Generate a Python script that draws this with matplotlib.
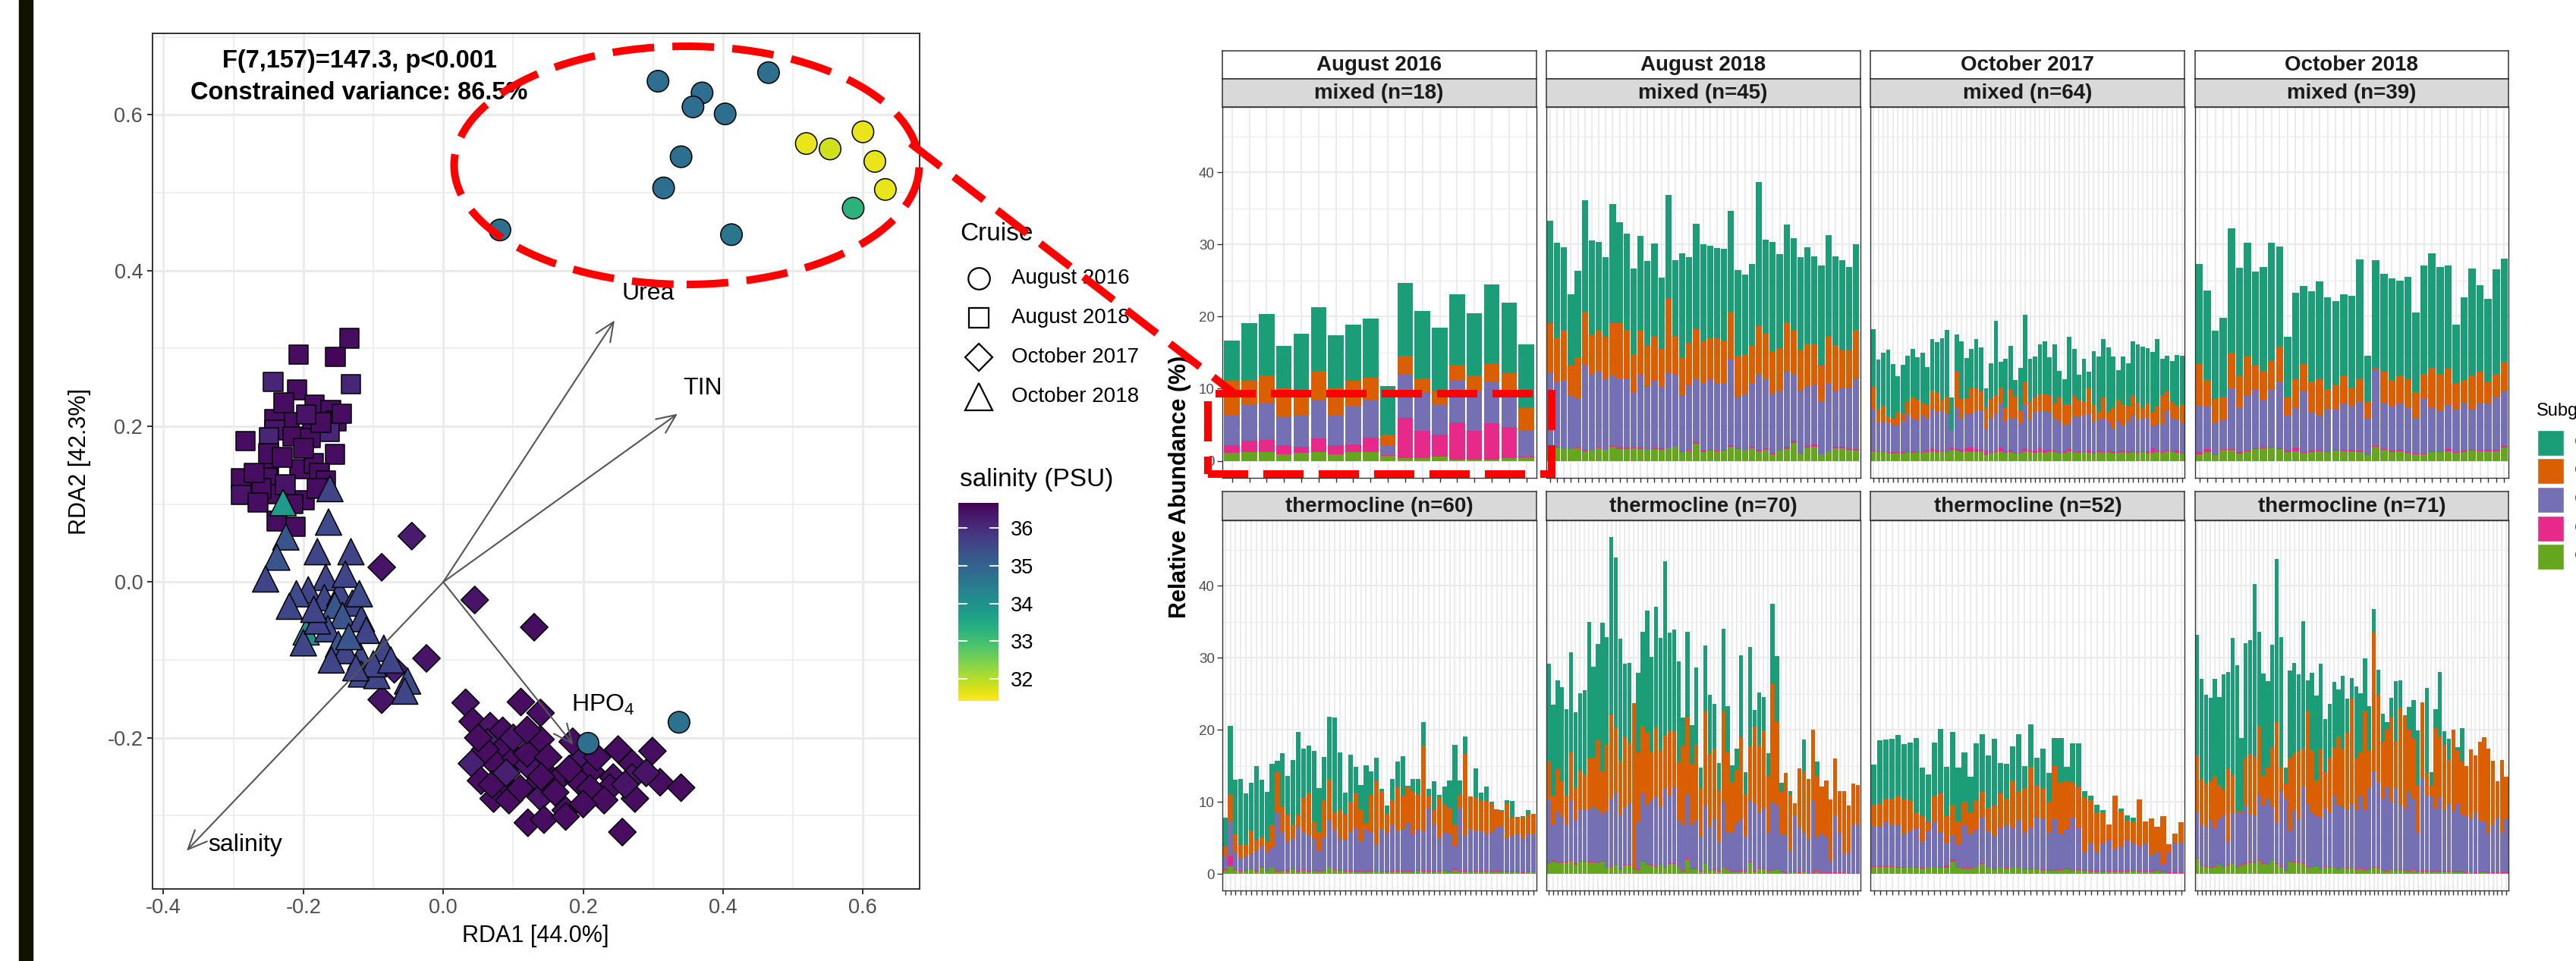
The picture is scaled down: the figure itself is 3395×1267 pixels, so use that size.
import numpy as np
import matplotlib
matplotlib.use("Agg")
import matplotlib.pyplot as plt
from matplotlib.patches import Ellipse, Rectangle
from matplotlib.lines import Line2D
from matplotlib.colors import Normalize
from matplotlib.cm import ScalarMappable
from matplotlib.ticker import FormatStrFormatter

plt.rcParams['font.family'] = ['Liberation Sans', 'DejaVu Sans']
plt.rcParams['mathtext.fontset'] = 'custom'
plt.rcParams['mathtext.rm'] = 'Liberation Sans'
plt.rcParams['mathtext.it'] = 'Liberation Sans:italic'

W, H = 3395, 1267

# ---------------- RDA ordination (left) ----------------
# August 2016 (circles)
circ_x = [0.307, 0.465, 0.370, 0.357, 0.403, 0.340, 0.315, 0.081, 0.412, 0.519, 0.553, 0.600, 0.617, 0.632, 0.586, 0.207, 0.337]
circ_y = [0.643, 0.654, 0.628, 0.610, 0.601, 0.546, 0.506, 0.452, 0.446, 0.563, 0.556, 0.578, 0.540, 0.504, 0.480, -0.207, -0.180]
circ_sal = [34.8, 34.8, 34.8, 34.8, 34.8, 34.8, 34.8, 34.8, 34.6, 31.6, 31.8, 31.6, 31.6, 31.6, 33.3, 34.8, 34.7]

# August 2018 (squares)
sq_x = [-0.134, -0.207, -0.154, -0.243, -0.132, -0.209, -0.184, -0.161, -0.153, -0.187, -0.220, -0.241, -0.241, -0.163, -0.283,
        -0.249, -0.215, -0.190, -0.155, -0.283, -0.249, -0.205, -0.185, -0.250, -0.289, -0.289, -0.252, -0.247, -0.198, -0.238,
        -0.211, -0.177, -0.168, -0.226, -0.260, -0.270, -0.230, -0.200, -0.175, -0.145, -0.228, -0.196, -0.180, -0.215, -0.265]
sq_y = [0.313, 0.292, 0.289, 0.257, 0.254, 0.247, 0.227, 0.221, 0.207, 0.205, 0.205, 0.209, 0.195, 0.193, 0.181,
        0.186, 0.187, 0.185, 0.164, 0.132, 0.150, 0.145, 0.152, 0.165, 0.133, 0.112, 0.134, 0.113, 0.105, 0.078,
        0.071, 0.140, 0.130, 0.125, 0.120, 0.140, 0.160, 0.172, 0.205, 0.216, 0.230, 0.215, 0.120, 0.100, 0.102]
sq_sal = [36.5, 36.5, 36.6, 36.1, 36.1, 36.5, 36.5, 36.5, 36.5, 36.5, 36.5, 36.5, 36.4, 36.1, 36.5,
          36.1, 36.5, 36.5, 36.5, 36.5, 36.5, 36.5, 36.5, 36.5, 36.5, 36.4, 36.5, 36.5, 36.5, 36.5,
          36.5, 36.5, 36.5, 36.4, 36.5, 36.5, 36.5, 36.5, 36.5, 36.5, 36.5, 36.4, 36.5, 36.5, 36.5]

# October 2017 (diamonds)
dia_x = [-0.045, -0.088, 0.045, 0.130, -0.024, -0.070, -0.088, 0.032, 0.111, 0.139,
         0.042, 0.067, 0.085, 0.063, 0.139, 0.085, 0.299, 0.270, 0.193, 0.211,
         0.243, 0.270, 0.310, 0.340, 0.041, 0.077, 0.103, 0.121, 0.148, 0.162,
         0.054, 0.085, 0.130, 0.193, 0.238, 0.274, 0.072, 0.094, 0.139, 0.175,
         0.121, 0.144, 0.175, 0.256, 0.060, 0.100, 0.120, 0.150, 0.180, 0.220,
         0.250, 0.290, 0.210, 0.160, 0.110, 0.070, 0.090, 0.140, 0.230, 0.260,
         0.050, 0.120, 0.185, 0.200]
dia_y = [0.059, 0.019, -0.023, -0.058, -0.098, -0.112, -0.151, -0.155, -0.154, -0.168,
         -0.179, -0.185, -0.191, -0.206, -0.202, -0.214, -0.217, -0.233, -0.230, -0.243,
         -0.251, -0.251, -0.257, -0.264, -0.233, -0.235, -0.226, -0.235, -0.247, -0.255,
         -0.255, -0.257, -0.262, -0.255, -0.264, -0.278, -0.278, -0.280, -0.276, -0.293,
         -0.309, -0.305, -0.301, -0.321, -0.215, -0.200, -0.220, -0.225, -0.240, -0.225,
         -0.215, -0.245, -0.265, -0.270, -0.265, -0.260, -0.245, -0.250, -0.280, -0.260,
         -0.200, -0.190, -0.205, -0.285]
dia_sal = [36.3, 36.4, 36.4, 36.5, 36.4, 36.3, 36.4, 36.4, 36.5, 36.5,
           36.5, 36.4, 36.5, 36.2, 36.5, 36.5, 36.5, 36.5, 36.4, 36.5,
           36.5, 36.4, 36.5, 36.5, 36.2, 36.5, 36.5, 36.4, 36.5, 36.5,
           36.5, 36.5, 36.4, 36.5, 36.5, 36.5, 36.5, 36.5, 36.4, 36.5,
           36.5, 36.5, 36.5, 36.5, 36.5, 36.4, 36.5, 36.5, 36.5, 36.5,
           36.5, 36.4, 36.5, 36.5, 36.5, 36.5, 36.2, 36.5, 36.5, 36.4,
           36.5, 36.5, 36.5, 36.5]

# October 2018 (triangles)
tri_x = [-0.162, -0.229, -0.164, -0.225, -0.180, -0.132, -0.238, -0.254, -0.168, -0.193,
         -0.210, -0.170, -0.148, -0.220, -0.155, -0.130, -0.144, -0.117, -0.196, -0.165,
         -0.110, -0.200, -0.150, -0.085, -0.118, -0.140, -0.117, -0.095, -0.051, -0.055,
         -0.180, -0.135, -0.100, -0.125, -0.160, -0.185, -0.140, -0.120, -0.075]
tri_y = [0.120, 0.102, 0.077, 0.058, 0.039, 0.039, 0.032, 0.004, 0.006, -0.010,
         -0.015, -0.020, -0.014, -0.031, -0.030, -0.027, -0.043, -0.047, -0.064, -0.060,
         -0.062, -0.078, -0.080, -0.085, -0.096, -0.088, -0.118, -0.120, -0.127, -0.140,
         -0.050, -0.070, -0.105, -0.110, -0.100, -0.035, 0.010, -0.015, -0.100]
tri_sal = [35.6, 33.8, 35.5, 35.3, 35.6, 35.6, 35.3, 35.6, 35.6, 35.6,
           35.5, 35.6, 35.6, 35.6, 35.3, 35.6, 35.3, 35.6, 34.1, 35.5,
           35.6, 35.6, 35.3, 35.6, 35.5, 35.6, 35.5, 35.6, 35.5, 35.6,
           35.6, 35.3, 35.6, 35.6, 35.6, 35.6, 35.6, 35.5, 35.6]

# environmental vectors
vec_names = ['Urea', 'TIN', 'HPO$_4$', 'salinity']
vec_x = [0.245, 0.335, 0.186, -0.367]
vec_y = [0.336, 0.216, -0.209, -0.345]
vec_lab_x = [0.293, 0.371, 0.228, -0.283]
vec_lab_y = [0.370, 0.249, -0.158, -0.338]

cruises = ['August 2016', 'August 2018', 'October 2017', 'October 2018']
sal_ticks = [32, 33, 34, 35, 36]

# ---------------- relative abundance bars (right) ----------------
# per bar: top of green, pink, purple, orange and teal (total) layers, in %
am16_g = [1.1, 1.2, 1.2, 0.9, 1.1, 1.2, 0.9, 1.2, 1.2, 0.7, 0.4, 0.4, 0.6, 0.2, 0.2, 0.2, 0.4, 0.5]
am16_p = [2.2, 2.8, 2.9, 2.2, 2.0, 3.1, 2.2, 2.3, 3.2, 0.8, 5.9, 4.2, 3.6, 5.3, 4.2, 5.2, 4.7, 0.6]
am16_v = [6.4, 7.7, 8.1, 6.1, 6.3, 8.5, 6.3, 7.5, 8.5, 2.2, 12.1, 9.4, 7.7, 11.1, 9.6, 11.0, 9.3, 4.3]
am16_o = [11.1, 11.1, 11.8, 10.0, 9.8, 12.5, 10.0, 11.1, 11.5, 3.6, 14.6, 11.4, 9.6, 13.3, 11.8, 13.5, 12.2, 7.4]
am16_t = [16.7, 19.1, 20.4, 15.9, 17.6, 21.3, 17.4, 18.9, 19.7, 10.4, 24.7, 20.8, 18.5, 23.1, 20.5, 24.5, 21.9, 16.1]

am18_g = [1.9, 1.85, 1.6, 1.6, 1.75, 1.35, 1.4, 1.75, 1.5, 1.9, 1.6, 1.6, 1.75, 1.6, 1.5, 1.6, 1.55, 1.7, 1.9, 1.2,
          1.35, 2.4, 1.2, 1.4, 1.3, 1.4, 1.9, 1.65, 1.4, 1.7, 1.3, 1.5, 0.95, 1.4, 1.65, 2.5, 1.0, 1.85, 2.0, 0.9,
          1.3, 1.75, 1.75, 1.5, 1.4]
am18_p = [1.9, 1.9, 1.65, 1.65, 1.8, 1.5, 1.45, 1.8, 1.55, 2.1, 1.8, 1.8, 1.8, 1.85, 1.55, 1.8, 1.75, 1.75, 1.95, 1.35,
          1.4, 2.6, 1.4, 1.55, 1.4, 1.55, 2.15, 1.7, 1.45, 1.9, 1.5, 1.75, 1.15, 1.5, 1.9, 2.8, 1.1, 2.1, 2.25, 0.95,
          1.35, 2.0, 1.9, 1.7, 1.65]
am18_v = [12.2, 11.0, 11.1, 9.0, 8.7, 13.2, 11.9, 12.4, 11.3, 11.8, 11.4, 11.4, 9.4, 11.9, 10.4, 11.1, 10.3, 12.3, 11.9, 9.1,
          10.5, 11.4, 10.8, 11.3, 10.8, 10.8, 14.0, 8.9, 9.3, 10.8, 12.1, 11.4, 9.3, 9.6, 12.4, 11.9, 9.6, 10.4, 10.5, 8.3,
          10.7, 9.6, 10.0, 10.1, 11.4]
am18_o = [19.1, 17.1, 18.0, 13.2, 14.4, 20.7, 17.5, 18.1, 17.2, 19.1, 19.1, 18.1, 14.8, 18.2, 15.9, 17.3, 15.5, 22.5, 17.3, 14.3,
          16.4, 18.3, 16.6, 17.1, 17.0, 16.7, 20.7, 14.6, 14.8, 15.9, 18.7, 17.6, 15.2, 15.6, 19.2, 18.1, 15.4, 16.3, 16.2, 13.2,
          17.3, 16.0, 15.3, 15.3, 18.1]
am18_t = [33.3, 30.2, 29.6, 23.1, 26.3, 36.1, 30.6, 30.4, 28.2, 35.6, 33.1, 31.5, 26.7, 31.2, 27.7, 30.1, 25.4, 36.9, 27.8, 28.8,
          28.2, 32.9, 30.0, 29.8, 29.5, 29.4, 34.7, 26.5, 25.8, 27.3, 38.7, 30.7, 30.4, 28.7, 32.8, 30.9, 28.2, 29.6, 28.4, 27.1,
          31.3, 28.3, 27.8, 26.9, 30.0]

om17_g = [1.3, 1.2, 1.2, 1.1, 1.0, 1.1, 1.0, 1.2, 1.1, 1.2, 1.1, 1.2, 1.3, 1.2, 1.3, 1.2, 1.5, 1.4, 1.2, 1.3,
          1.2, 1.2, 1.3, 0.8, 1.1, 1.2, 1.3, 1.1, 1.2, 1.0, 1.1, 1.3, 1.2, 1.1, 1.2, 1.1, 1.3, 1.2, 1.0, 1.1,
          1.3, 1.2, 1.1, 1.2, 1.1, 1.0, 1.2, 1.1, 1.2, 1.0, 1.1, 1.2, 1.1, 1.2, 1.1, 1.2, 1.0, 1.1, 1.2, 1.1,
          1.3, 1.2, 1.1, 1.0]
om17_p = [1.5, 1.3, 1.3, 1.2, 1.2, 1.2, 1.2, 1.3, 1.3, 1.3, 1.2, 1.4, 1.7, 1.4, 1.4, 1.3, 1.8, 1.6, 1.5, 1.8,
          1.8, 1.6, 1.5, 1.4, 1.2, 1.4, 1.8, 1.3, 1.5, 1.1, 1.2, 1.7, 1.4, 1.4, 1.7, 1.4, 1.5, 1.4, 1.1, 1.3,
          1.6, 1.3, 1.3, 1.3, 1.4, 1.1, 1.4, 1.2, 1.4, 1.3, 1.2, 1.4, 1.3, 1.3, 1.3, 1.3, 1.3, 1.7, 1.4, 1.2,
          1.5, 1.3, 1.4, 1.1]
om17_v = [7.1, 5.3, 5.5, 5.3, 5.0, 4.9, 5.4, 6.5, 5.8, 5.6, 6.4, 5.8, 7.2, 6.8, 7.0, 6.6, 4.2, 7.3, 6.0, 6.5,
          6.5, 7.0, 7.0, 4.5, 5.8, 6.6, 8.0, 5.4, 6.0, 5.9, 5.2, 7.7, 5.7, 6.7, 6.9, 7.0, 6.8, 6.0, 5.5, 4.9,
          5.2, 6.2, 6.2, 6.4, 6.5, 5.4, 5.7, 6.0, 5.4, 4.5, 5.4, 4.9, 5.5, 6.4, 5.7, 5.9, 6.0, 4.8, 5.1, 5.0,
          7.0, 6.0, 5.6, 5.3]
om17_o = [10.3, 7.2, 7.6, 6.2, 5.8, 6.8, 6.6, 8.3, 8.9, 8.5, 8.0, 7.7, 9.7, 9.4, 8.5, 8.9, 4.2, 12.4, 8.6, 8.7,
          10.0, 10.1, 9.6, 7.4, 8.6, 9.0, 10.2, 7.4, 9.8, 8.9, 6.9, 11.0, 8.2, 8.8, 9.2, 9.3, 9.0, 7.9, 8.8, 7.8,
          7.8, 9.0, 8.4, 8.2, 10.0, 7.8, 6.8, 8.8, 6.8, 7.4, 8.5, 7.8, 7.6, 9.0, 8.0, 7.4, 7.9, 6.8, 7.5, 9.0,
          9.6, 8.2, 7.6, 7.8]
om17_t = [18.3, 14.0, 15.0, 15.4, 13.4, 11.7, 13.3, 14.6, 15.5, 14.4, 15.0, 13.0, 16.9, 16.5, 17.0, 18.2, 8.8, 17.5, 16.6, 14.3,
          15.5, 16.9, 15.7, 10.1, 13.5, 19.4, 13.7, 14.1, 15.9, 11.2, 12.9, 20.2, 14.1, 14.5, 16.2, 16.6, 14.4, 16.2, 12.5, 11.3,
          17.2, 15.5, 11.9, 14.1, 12.4, 15.2, 14.5, 16.9, 15.7, 14.5, 12.6, 14.5, 13.5, 16.6, 16.1, 15.8, 15.6, 15.1, 16.9, 14.2,
          14.6, 13.8, 14.7, 14.6]

om18_g = [0.9, 1.2, 0.8, 1.5, 1.5, 1.0, 1.3, 1.6, 1.7, 1.8, 1.6, 1.2, 1.3, 1.1, 1.2, 1.3, 1.2, 1.4, 1.3, 1.3,
          1.2, 0.8, 2.0, 1.5, 1.2, 1.3, 1.1, 0.9, 0.9, 1.2, 1.2, 1.3, 1.1, 1.2, 1.4, 1.3, 1.3, 1.3, 1.8]
om18_p = [1.2, 1.6, 0.9, 1.6, 1.6, 1.2, 1.4, 1.7, 1.8, 1.9, 1.7, 1.4, 1.8, 1.2, 1.4, 1.4, 1.3, 1.5, 1.4, 1.5,
          1.4, 0.9, 2.1, 1.6, 1.4, 1.5, 1.2, 1.0, 1.0, 1.3, 1.3, 1.6, 1.2, 1.4, 1.5, 1.4, 1.5, 1.5, 2.1]
om18_v = [7.6, 7.5, 5.3, 5.7, 10.0, 7.4, 9.1, 9.8, 8.4, 9.8, 11.0, 6.4, 7.3, 9.7, 6.7, 6.4, 7.1, 7.2, 7.9, 7.5,
          8.2, 5.8, 12.6, 8.0, 7.6, 8.1, 7.4, 6.0, 8.6, 7.4, 7.0, 7.7, 7.2, 8.0, 7.2, 7.9, 7.9, 8.8, 9.7]
om18_o = [13.4, 11.2, 8.6, 8.8, 15.0, 11.8, 14.6, 13.2, 12.5, 13.8, 15.8, 8.8, 11.3, 13.4, 11.0, 11.3, 9.9, 10.6, 11.8, 10.0,
          11.4, 8.3, 12.8, 12.4, 11.2, 11.8, 11.4, 9.5, 12.0, 12.9, 12.0, 12.8, 10.8, 11.2, 11.8, 12.4, 11.0, 12.1, 13.7]
om18_t = [27.3, 23.6, 18.0, 19.8, 32.2, 26.8, 30.2, 26.2, 26.9, 30.2, 29.7, 17.2, 23.3, 24.3, 23.5, 24.9, 22.7, 22.1, 23.1, 22.9,
          27.9, 14.6, 27.8, 25.9, 25.3, 25.0, 25.5, 20.6, 27.1, 28.8, 26.9, 27.1, 18.9, 22.7, 26.7, 24.4, 22.5, 26.6, 28.0]

at16_g = [0.5, 1.1, 0.5, 0.3, 0.4, 0.6, 0.3, 0.9, 0.4, 0.8, 0.3, 0.4, 0.3, 0.6, 0.3, 0.5, 0.3, 0.4, 0.3, 0.4,
          0.8, 0.5, 0.4, 0.3, 0.3, 0.2, 0.3, 0.2, 0.3, 0.4, 0.2, 0.2, 0.3, 0.3, 0.2, 0.3, 0.2, 0.4, 0.3, 0.3,
          0.2, 0.3, 0.4, 0.2, 0.5, 0.3, 0.3, 0.2, 0.3, 0.2, 0.3, 0.2, 0.3, 0.2, 0.2, 0.2, 0.2, 0.1, 0.2, 0.2]
at16_p = [0.6, 2.5, 0.6, 0.4, 0.5, 0.7, 0.5, 1.0, 0.5, 0.9, 0.4, 0.5, 0.4, 0.7, 0.4, 0.6, 0.4, 0.5, 0.4, 0.5,
          0.9, 0.6, 0.5, 0.4, 0.4, 0.3, 0.4, 0.3, 0.4, 0.5, 0.3, 0.3, 0.4, 0.4, 0.3, 0.4, 0.3, 0.5, 0.4, 0.4,
          0.3, 0.4, 0.5, 0.3, 0.7, 0.4, 0.4, 0.3, 0.4, 0.3, 0.4, 0.3, 0.4, 0.3, 0.3, 0.3, 0.3, 0.2, 0.3, 0.3]
at16_v = [2.4, 7.3, 3.1, 2.1, 2.4, 2.7, 3.3, 3.8, 3.0, 3.7, 8.4, 5.8, 4.5, 4.8, 6.5, 5.7, 5.4, 4.8, 3.2, 5.1,
          7.5, 6.1, 5.0, 4.6, 5.8, 6.3, 4.5, 6.1, 5.8, 4.0, 6.2, 5.7, 6.8, 5.9, 6.2, 7.1, 5.5, 6.1, 5.9, 9.2,
          6.8, 5.0, 5.7, 5.5, 3.8, 9.1, 5.4, 6.1, 6.0, 5.9, 5.6, 5.7, 6.4, 6.5, 5.0, 5.4, 5.5, 5.0, 5.6, 5.6]
at16_o = [3.8, 11.0, 5.6, 4.0, 4.1, 6.0, 4.6, 5.1, 4.5, 6.8, 14.1, 9.3, 8.2, 6.8, 8.2, 10.5, 11.3, 7.3, 5.8, 10.2,
          13.2, 8.4, 9.0, 8.2, 10.0, 11.2, 9.0, 7.1, 11.0, 12.8, 11.5, 8.3, 10.2, 12.0, 10.7, 12.0, 11.5, 11.0, 17.8, 10.7,
          8.9, 10.6, 9.7, 9.1, 6.8, 11.0, 16.6, 10.7, 10.6, 10.2, 10.1, 9.7, 8.8, 8.7, 9.8, 7.8, 7.8, 7.9, 8.2, 8.3]
at16_t = [7.8, 20.5, 13.1, 13.2, 11.2, 12.6, 15.0, 13.1, 11.4, 15.3, 15.7, 16.7, 13.6, 15.8, 19.7, 17.4, 17.8, 17.1, 11.9, 16.2,
          21.8, 21.7, 16.8, 11.3, 16.5, 14.9, 12.3, 15.1, 14.2, 16.1, 11.8, 9.5, 13.2, 15.6, 16.3, 12.2, 13.2, 13.2, 21.1, 11.8,
          12.9, 11.0, 12.1, 13.0, 17.9, 13.0, 19.1, 10.7, 14.6, 11.3, 12.1, 10.0, 9.0, 8.9, 10.2, 10.1, 7.9, 8.0, 8.8, 8.3]

at18_g = [1.5, 1.7, 1.5, 1.6, 1.6, 1.8, 1.3, 1.7, 1.7, 1.6, 1.6, 1.5, 1.7, 0.8, 1.0, 1.3, 0.6, 1.2, 1.2, 0.6,
          0.5, 1.7, 1.3, 1.2, 1.0, 1.3, 0.9, 1.4, 1.4, 0.8, 0.3, 2.0, 0.6, 0.6, 0.3, 1.5, 0.4, 0.5, 0.3, 0.8,
          0.5, 0.2, 0.3, 0.3, 0.3, 1.6, 0.3, 0.7, 0.6, 0.3, 0.4, 0.6, 0.2, 0.1, 0.2, 0.2, 0.1, 0.3, 0.0, 0.1,
          0.3, 0.1, 0.1, 0.1, 0.1, 0.1, 0.1, 0.0, 0.0, 0.0]
at18_p = [1.6, 1.9, 1.6, 1.7, 1.7, 1.9, 1.5, 1.8, 1.8, 1.7, 1.7, 1.6, 1.8, 0.9, 1.1, 1.4, 0.7, 1.3, 1.3, 0.7,
          0.6, 1.8, 1.4, 1.3, 1.1, 1.4, 1.0, 1.5, 1.5, 0.9, 0.4, 2.1, 0.7, 0.7, 0.4, 1.6, 0.5, 0.6, 0.4, 0.9,
          0.6, 0.3, 0.4, 0.4, 0.4, 1.7, 0.4, 0.8, 0.7, 0.4, 0.5, 0.7, 0.3, 0.2, 0.3, 0.3, 0.2, 0.4, 0.1, 0.2,
          0.4, 0.2, 0.2, 0.2, 0.2, 0.2, 0.2, 0.1, 0.1, 0.1]
at18_v = [10.3, 6.7, 8.6, 7.9, 6.8, 10.2, 7.5, 8.8, 9.0, 9.0, 9.4, 9.0, 8.3, 8.7, 10.4, 11.3, 8.2, 9.2, 9.8, 0.7,
          7.2, 11.2, 9.6, 10.1, 10.7, 9.4, 11.9, 10.8, 12.0, 7.5, 6.7, 11.1, 6.9, 7.5, 5.2, 9.5, 6.5, 7.6, 4.4, 10.0,
          5.7, 5.7, 7.0, 7.6, 5.2, 10.2, 9.7, 8.4, 9.2, 5.7, 10.0, 9.5, 5.6, 5.4, 3.3, 8.1, 6.4, 5.7, 4.9, 10.1,
          5.1, 5.6, 5.1, 1.8, 8.1, 5.7, 2.7, 3.0, 6.7, 6.9]
at18_o = [15.7, 10.8, 14.5, 12.8, 10.8, 16.8, 11.9, 14.4, 13.8, 16.1, 16.1, 18.5, 14.2, 18.0, 22.1, 20.3, 15.7, 19.0, 18.2, 23.7,
          16.8, 20.5, 19.7, 17.0, 20.3, 17.2, 19.3, 19.9, 19.9, 15.5, 17.8, 21.8, 15.2, 17.9, 11.9, 22.6, 16.7, 17.4, 11.6, 22.6,
          16.8, 12.7, 14.4, 19.0, 11.1, 17.7, 20.4, 17.8, 19.9, 13.5, 26.4, 21.1, 11.4, 14.0, 11.1, 9.8, 14.6, 14.1, 13.2, 20.0,
          13.6, 12.1, 13.0, 10.3, 16.0, 11.5, 11.5, 9.5, 12.5, 12.3]
at18_t = [29.2, 23.5, 26.9, 25.9, 22.9, 30.7, 22.4, 25.1, 25.5, 35.0, 28.7, 31.9, 34.9, 32.9, 46.8, 43.9, 32.6, 29.2, 29.3, 23.7,
          27.9, 33.6, 36.5, 30.1, 37.1, 32.8, 43.4, 33.5, 33.9, 29.5, 21.7, 33.6, 20.6, 28.6, 14.7, 31.7, 24.9, 23.6, 15.4, 34.0,
          23.3, 15.1, 17.4, 30.3, 14.1, 31.5, 22.7, 25.2, 24.5, 16.7, 37.5, 30.2, 12.6, 14.0, 11.5, 9.8, 14.6, 18.6, 13.2, 20.0,
          15.6, 12.1, 13.0, 10.3, 16.0, 11.5, 11.5, 9.5, 12.5, 12.3]

ot17_g = [1.0, 1.0, 1.0, 1.0, 0.9, 0.9, 0.8, 0.9, 0.7, 0.8, 0.8, 0.9, 0.9, 1.7, 0.9, 0.7, 0.7, 0.8, 1.4, 0.8,
          0.6, 0.8, 0.7, 0.8, 0.8, 0.6, 0.6, 0.6, 0.5, 0.4, 0.4, 0.5, 0.6, 0.4, 0.5, 0.4, 0.3, 0.3, 0.2, 0.3,
          0.3, 0.3, 0.3, 0.4, 0.3, 0.3, 0.3, 0.4, 0.2, 0.1, 0.1, 0.1]
ot17_p = [1.1, 1.1, 1.1, 1.1, 1.0, 1.0, 0.9, 1.0, 0.8, 0.9, 0.9, 1.0, 1.2, 2.0, 1.0, 0.8, 0.8, 0.9, 1.5, 0.9,
          0.7, 0.9, 0.8, 0.9, 0.9, 0.7, 0.7, 0.7, 0.6, 0.5, 0.5, 0.6, 0.7, 0.5, 0.6, 0.5, 0.4, 0.4, 0.3, 0.4,
          0.4, 0.4, 0.4, 0.5, 0.4, 0.4, 0.4, 0.5, 0.3, 0.2, 0.2, 0.2]
ot17_v = [6.5, 6.5, 7.2, 6.9, 6.7, 5.6, 5.9, 6.3, 4.4, 5.9, 7.2, 5.8, 4.2, 5.4, 4.0, 6.8, 5.5, 6.1, 7.8, 5.9,
          5.3, 6.3, 6.8, 6.3, 7.4, 5.7, 6.3, 7.8, 7.6, 5.7, 7.6, 5.5, 6.1, 7.8, 6.3, 3.1, 4.2, 3.1, 4.2, 4.6,
          3.5, 3.8, 4.6, 4.2, 3.8, 4.2, 2.5, 3.0, 1.3, 3.0, 4.2, 4.3]
ot17_o = [9.6, 9.7, 10.4, 10.4, 10.8, 10.3, 10.2, 8.5, 8.0, 7.2, 10.8, 11.2, 8.1, 9.6, 7.3, 10.0, 8.5, 10.2, 11.4, 9.2,
          9.5, 11.2, 10.4, 13.0, 11.5, 11.9, 14.9, 12.2, 11.9, 10.0, 15.0, 12.6, 12.9, 12.7, 12.0, 10.6, 10.2, 8.5, 8.5, 6.8,
          10.8, 8.6, 7.4, 7.2, 10.3, 7.3, 7.7, 6.5, 8.0, 4.1, 5.6, 7.2]
ot17_t = [15.2, 18.5, 18.6, 18.8, 19.3, 18.0, 18.2, 18.9, 14.7, 13.8, 18.2, 20.1, 14.9, 19.7, 14.7, 16.8, 13.5, 18.1, 19.4, 16.4,
          18.8, 15.4, 15.3, 17.7, 19.4, 15.0, 20.7, 16.1, 17.4, 14.0, 18.9, 18.9, 14.9, 18.1, 18.1, 11.5, 10.8, 9.6, 8.8, 6.8,
          10.8, 9.1, 8.1, 7.8, 10.3, 7.3, 7.7, 6.5, 8.0, 4.1, 5.6, 7.2]

ot18_g = [2.1, 1.1, 1.0, 0.9, 1.0, 1.3, 0.8, 1.2, 1.5, 0.9, 1.2, 1.4, 1.6, 1.5, 1.8, 1.4, 1.3, 1.9, 1.4, 1.0,
          0.4, 1.7, 1.6, 1.6, 1.4, 1.0, 0.8, 1.1, 0.6, 1.0, 0.9, 0.8, 0.6, 0.8, 0.7, 0.9, 0.5, 0.7, 0.5, 0.6,
          0.9, 0.7, 0.4, 0.3, 0.6, 0.4, 0.5, 0.4, 0.3, 0.5, 0.2, 0.3, 0.3, 0.2, 0.3, 0.2, 0.2, 0.3, 0.2, 0.2,
          0.2, 0.1, 0.2, 0.1, 0.2, 0.2, 0.1, 0.1, 0.1, 0.1, 0.1]
ot18_p = [2.2, 1.2, 1.1, 1.0, 1.1, 1.4, 0.9, 1.3, 1.6, 1.0, 1.3, 1.5, 1.7, 1.6, 1.9, 1.5, 1.4, 2.0, 1.5, 1.1,
          0.5, 1.8, 1.7, 1.7, 1.5, 1.1, 0.9, 1.2, 0.7, 1.1, 1.0, 0.9, 0.7, 0.9, 0.8, 1.0, 0.6, 0.8, 0.6, 0.7,
          1.0, 0.8, 0.5, 0.4, 0.7, 0.5, 0.6, 0.5, 0.4, 0.6, 0.3, 0.4, 0.4, 0.3, 0.4, 0.3, 0.3, 0.4, 0.3, 0.3,
          0.3, 0.2, 0.3, 0.2, 0.3, 0.3, 0.2, 0.2, 0.2, 0.2, 0.2]
ot18_v = [8.5, 6.8, 6.5, 7.5, 6.3, 7.6, 8.2, 4.4, 8.5, 8.5, 8.5, 9.5, 8.2, 8.1, 11.0, 9.5, 10.4, 9.3, 7.2, 11.5,
          10.4, 6.0, 8.9, 7.6, 12.1, 9.7, 8.5, 8.0, 7.8, 9.1, 8.5, 10.8, 9.6, 9.3, 8.8, 9.7, 9.0, 10.8, 8.9, 11.9,
          14.2, 12.7, 10.4, 12.1, 10.0, 11.9, 9.6, 9.1, 11.5, 10.4, 5.7, 13.4, 10.8, 10.8, 9.1, 10.6, 8.9, 9.7, 8.7, 9.7,
          8.2, 8.0, 7.6, 8.5, 7.4, 7.2, 5.7, 6.8, 7.8, 5.7, 7.6]
ot18_o = [16.4, 13.2, 12.5, 12.9, 13.6, 12.3, 11.7, 14.5, 13.7, 8.7, 8.7, 16.1, 16.6, 16.2, 20.5, 13.6, 14.7, 17.5, 21.1, 14.8,
          12.5, 16.0, 16.7, 17.1, 17.4, 22.6, 17.2, 13.0, 17.4, 14.1, 16.0, 17.6, 19.1, 17.4, 19.6, 24.3, 16.0, 17.0, 22.6, 17.2,
          33.6, 24.9, 18.3, 20.0, 21.8, 18.4, 23.1, 21.9, 20.0, 18.7, 12.2, 23.8, 14.0, 12.2, 20.2, 19.1, 17.9, 15.8, 20.0, 17.1,
          15.6, 15.0, 17.3, 16.4, 18.3, 19.0, 17.4, 15.7, 12.9, 15.8, 13.5]
ot18_t = [33.2, 27.1, 24.9, 24.4, 27.1, 24.5, 27.7, 28.0, 32.7, 29.0, 18.9, 32.0, 32.4, 40.2, 33.6, 27.8, 26.8, 31.8, 43.7, 32.9,
          14.7, 28.2, 29.3, 27.7, 35.1, 26.9, 27.9, 24.8, 29.2, 21.5, 23.6, 26.6, 25.6, 27.5, 24.3, 27.2, 26.0, 25.1, 29.9, 23.3,
          36.7, 28.3, 22.2, 21.1, 24.4, 26.7, 26.9, 22.0, 23.2, 24.1, 19.9, 23.8, 25.8, 14.1, 22.9, 28.0, 19.8, 18.8, 20.0, 17.6,
          20.2, 15.0, 17.3, 16.4, 18.3, 19.0, 17.4, 15.7, 12.9, 15.8, 13.5]

mixed_labels = ['mixed (n=18)', 'mixed (n=45)', 'mixed (n=64)', 'mixed (n=39)']
thermo_labels = ['thermocline (n=60)', 'thermocline (n=70)', 'thermocline (n=52)', 'thermocline (n=71)']
subgroup_labels = ['Clade I', 'Clade II', 'Clade III', 'Clade IV', 'Clade V']
layer_colors = ['#66A61E', '#E7298A', '#7570B3', '#D95F02', '#1B9E77']  # bottom -> top
abund_ticks = [0, 10, 20, 30, 40]

mixed_data = [(am16_g, am16_p, am16_v, am16_o, am16_t), (am18_g, am18_p, am18_v, am18_o, am18_t),
              (om17_g, om17_p, om17_v, om17_o, om17_t), (om18_g, om18_p, om18_v, om18_o, om18_t)]
thermo_data = [(at16_g, at16_p, at16_v, at16_o, at16_t), (at18_g, at18_p, at18_v, at18_o, at18_t),
               (ot17_g, ot17_p, ot17_v, ot17_o, ot17_t), (ot18_g, ot18_p, ot18_v, ot18_o, ot18_t)]


def frac(x0, y0, x1, y1):
    # pixel box (top-left origin) -> figure fraction rect
    return [x0 / W, 1 - y1 / H, (x1 - x0) / W, (y1 - y0) / H]


fig = plt.figure(figsize=(W / 100, H / 100), dpi=100)
fig.patch.set_facecolor('white')

# dark bar at the far left
fig.add_artist(Rectangle((25 / W, 0), 18 / W, 1, transform=fig.transFigure, color='#151100', zorder=1))

# ---------------- left: RDA plot ----------------
ax = fig.add_axes(frac(200.7, 44.4, 1212, 1172))
ax.set_xlim(-0.416, 0.681)
ax.set_ylim(-0.394, 0.704)
ax.set_xticks([-0.4, -0.2, 0.0, 0.2, 0.4, 0.6])
ax.set_yticks([-0.2, 0.0, 0.2, 0.4, 0.6])
ax.set_xticks([-0.3, -0.1, 0.1, 0.3, 0.5], minor=True)
ax.set_yticks([-0.3, -0.1, 0.1, 0.3, 0.5, 0.7], minor=True)
ax.xaxis.set_major_formatter(FormatStrFormatter('%.1f'))
ax.yaxis.set_major_formatter(FormatStrFormatter('%.1f'))
ax.grid(which='major', color='#ebebeb', lw=2.2)
ax.grid(which='minor', color='#ebebeb', lw=1.1)
ax.set_axisbelow(True)
ax.tick_params(which='major', length=5, width=1.4, color='#333333', labelsize=19.5, labelcolor='#4d4d4d', pad=4)
ax.tick_params(which='minor', length=0)
for s in ax.spines.values():
    s.set_color('#333333')
    s.set_linewidth(1.4)

cmap = plt.get_cmap('viridis_r')
norm = Normalize(31.42, 36.67)
kw = dict(cmap=cmap, norm=norm, edgecolors='black', linewidths=1.1, zorder=3)
ax.scatter(sq_x, sq_y, c=sq_sal, marker='s', s=340, **kw)
ax.scatter(dia_x, dia_y, c=dia_sal, marker='D', s=340, **kw)
ax.scatter(tri_x, tri_y, c=tri_sal, marker='^', s=620, **kw)
ax.scatter(circ_x, circ_y, c=circ_sal, marker='o', s=420, **kw)

for name, vx, vy, lx, ly in zip(vec_names, vec_x, vec_y, vec_lab_x, vec_lab_y):
    ax.annotate('', xy=(vx, vy), xytext=(0, 0), zorder=5,
                arrowprops=dict(arrowstyle='->,head_length=0.5,head_width=0.22', color='#555555',
                                lw=1.5, shrinkA=0, shrinkB=0, mutation_scale=36))
    ax.text(lx, ly, name, fontsize=23, ha='center', va='center', color='black', zorder=6)

ax.text(-0.120, 0.6686, 'F(7,157)=147.3, p<0.001', fontsize=23.5, fontweight='bold', ha='center', va='center', zorder=6)
ax.text(-0.120, 0.628, 'Constrained variance: 86.5%', fontsize=23.5, fontweight='bold', ha='center', va='center', zorder=6)

fig.text(706 / W, 1 - 1234 / H, 'RDA1 [44.0%]', fontsize=22, ha='center', va='center')
fig.text(105 / W, 1 - 608 / H, 'RDA2 [42.3%]', fontsize=22, ha='center', va='center', rotation=90)

# Cruise legend
fig.text(1265 / W, 1 - 308 / H, 'Cruise', fontsize=24, ha='left', va='center')
leg_markers = [('o', 20.5), ('s', 18.5), ('D', 18.0), ('^', 26)]
leg_y = [367, 419, 471, 523]
for (mk, ms), yy, lab in zip(leg_markers, leg_y, cruises):
    fig.add_artist(Line2D([1290 / W], [1 - yy / H], marker=mk, markersize=ms, mfc='none', mec='black',
                          mew=1.6, ls='none', transform=fig.transFigure))
    fig.text(1333 / W, 1 - yy / H, lab, fontsize=20, ha='left', va='center')

# salinity colourbar
fig.text(1265 / W, 1 - 632 / H, 'salinity (PSU)', fontsize=24, ha='left', va='center')
cax = fig.add_axes(frac(1263.3, 663, 1315.7, 924))
cb = fig.colorbar(ScalarMappable(norm=norm, cmap=cmap), cax=cax)
cb.outline.set_visible(False)
cb.set_ticks(sal_ticks)
cax.tick_params(length=0, pad=12, labelsize=19.5)
for t in sal_ticks:
    cax.plot([0, 0.2], [t, t], color='white', lw=1.3, transform=cax.get_yaxis_transform())
    cax.plot([0.8, 1], [t, t], color='white', lw=1.3, transform=cax.get_yaxis_transform())

# ---------------- right: stacked bars ----------------
col_left = [1610.7, 2037.7, 2465.4, 2892.5]
panel_w = 413.9


def style_panel(a, n, first):
    a.set_xlim(-0.57, n - 0.43)
    a.set_ylim(-2.34, 49.1)
    a.set_xticks(np.arange(n))
    a.set_yticks(abund_ticks)
    a.set_yticks([5, 15, 25, 35, 45], minor=True)
    a.grid(which='major', color='#ebebeb', lw=1.4)
    a.grid(which='minor', axis='y', color='#ebebeb', lw=0.8)
    a.set_axisbelow(True)
    a.tick_params(axis='x', length=4, width=1.0, color='#333333', labelbottom=False)
    a.tick_params(which='minor', length=0)
    if first:
        a.tick_params(axis='y', length=5, width=1.0, color='#333333', labelsize=13.5, labelcolor='#4d4d4d', pad=2)
    else:
        a.tick_params(axis='y', length=0, labelleft=False)
    for s in a.spines.values():
        s.set_color('#333333')
        s.set_linewidth(1.0)


def draw_stack(a, tops):
    x = np.arange(len(tops[0]))
    lower = np.zeros(len(x))
    for vals, col in zip(tops, layer_colors):
        upper = np.asarray(vals)
        a.bar(x, upper - lower, bottom=lower, width=0.9, color=col, lw=0)
        lower = upper


def strip(x0, y0, x1, y1, label, fc):
    s_ax = fig.add_axes(frac(x0, y0, x1, y1))
    s_ax.set_facecolor(fc)
    s_ax.set_xticks([])
    s_ax.set_yticks([])
    for s in s_ax.spines.values():
        s.set_color('#333333')
        s.set_linewidth(1.1)
    s_ax.text(0.5, 0.47, label, ha='center', va='center', fontsize=20, fontweight='bold',
              color='#1a1a1a', transform=s_ax.transAxes)


for i in range(4):
    x0 = col_left[i]
    x1 = x0 + panel_w
    # top row (mixed)
    a = fig.add_axes(frac(x0, 140.7, x1, 629.8))
    draw_stack(a, mixed_data[i])
    style_panel(a, len(mixed_data[i][4]), i == 0)
    strip(x0, 67.2, x1, 103.6, cruises[i], 'white')
    strip(x0, 103.6, x1, 140.7, mixed_labels[i], '#d9d9d9')
    # bottom row (thermocline)
    b = fig.add_axes(frac(x0, 685.7, x1, 1174.3))
    draw_stack(b, thermo_data[i])
    style_panel(b, len(thermo_data[i][4]), i == 0)
    strip(x0, 648.3, x1, 685.7, thermo_labels[i], '#d9d9d9')

fig.text(1555 / W, 1 - 642 / H, 'Relative Abundance (%)', fontsize=22, fontweight='bold',
         rotation=90, ha='center', va='center')

# subgroup legend (cut by the right edge, as in the source figure)
fig.text(3343 / W, 1 - 541.7 / H, 'Subgroup', fontsize=17, ha='left', va='center')
key_top = [566.7, 604.3, 642.0, 679.7, 717.5]
for kt, col, lab in zip(key_top, layer_colors[::-1], subgroup_labels):
    fig.add_artist(Rectangle((3344 / W, 1 - (kt + 34) / H), 35 / W, 34 / H, transform=fig.transFigure,
                             facecolor=col, edgecolor='white', lw=1))
    fig.text(3393 / W, 1 - (kt + 17) / H, lab, fontsize=17, ha='left', va='center')

# ---------------- red dashed highlight ----------------
fig.add_artist(Ellipse((905 / W, 1 - 218 / H), 613 / W, 314 / H, transform=fig.transFigure, fill=False,
                       ec='#ff0000', lw=7.2, ls=(0, (5.5, 2.4)), zorder=50))
fig.add_artist(Line2D([1200 / W, 1630 / W], [1 - 189 / H, 1 - 521 / H], transform=fig.transFigure,
                      color='#ff0000', lw=7.2, ls=(0, (5.0, 2.2)), zorder=50))
fig.add_artist(Rectangle((1592 / W, 1 - 625 / H), (2045 - 1592) / W, (625 - 519) / H, transform=fig.transFigure,
                         fill=False, ec='#ff0000', lw=7.2, ls=(0, (5.3, 2.0)), zorder=50))

fig.savefig('out.png', dpi=100, facecolor='white')
